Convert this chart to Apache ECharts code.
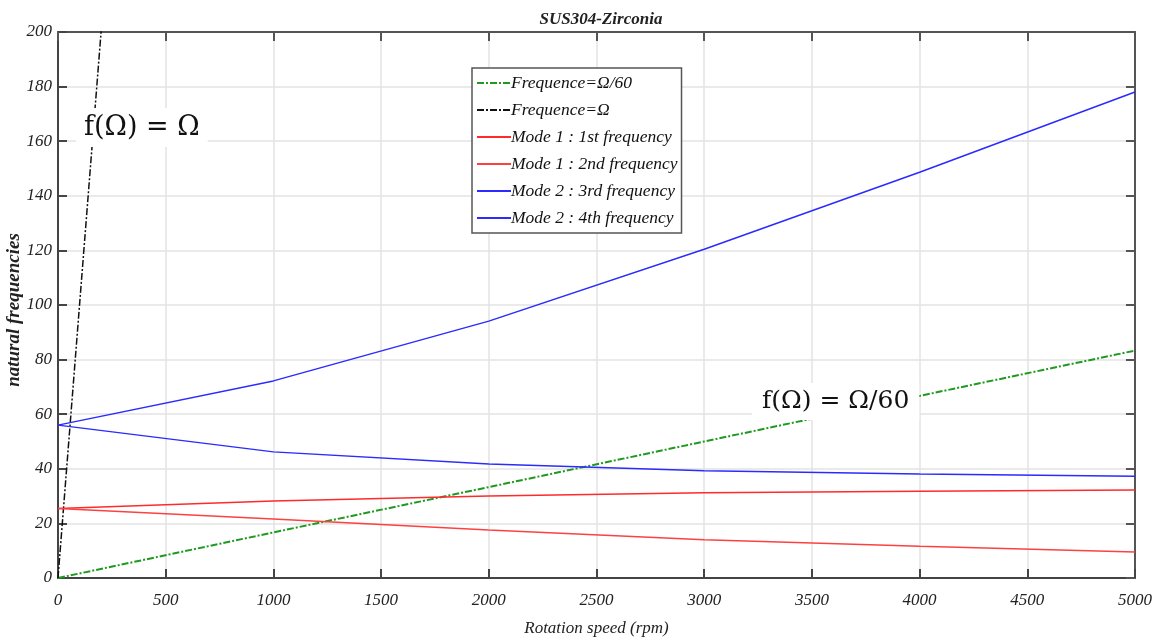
<!DOCTYPE html>
<html><head><meta charset="utf-8">
<script src="https://cdn.jsdelivr.net/npm/echarts@6/dist/echarts.min.js"></script>
<style>html,body{margin:0;padding:0;background:#fff}#c{width:1162px;height:643px}</style>
</head><body><div id="c"></div>
<script>
// Rotation speed (rpm)
const speeds = [0, 1000, 2000, 3000, 4000, 5000];
const freqOmega60 = [0, 16.7, 33.3, 50, 66.7, 83.3];
const freqOmega = [0, 1000, 2000, 3000, 4000, 5000];
const mode1First = [25.5, 28.2, 30.0, 31.2, 31.8, 32.2];
const mode1Second = [25.5, 21.6, 17.6, 14.0, 11.6, 9.5];
const mode2Third = [56, 72.2, 94.1, 120.4, 148.6, 178];
const mode2Fourth = [56, 46.2, 41.8, 39.3, 38.1, 37.3];
const seriesNames = ['Frequence=Ω/60','Frequence=Ω','Mode 1 : 1st frequency','Mode 1 : 2nd frequency','Mode 2 : 3rd frequency','Mode 2 : 4th frequency'];
const xTicks = [0,500,1000,1500,2000,2500,3000,3500,4000,4500,5000];
const yTicks = [0,20,40,60,80,100,120,140,160,180,200];

const pair = arr => speeds.map((s,i)=>[s,arr[i]]);
const serif = '"Liberation Serif", "DejaVu Serif", serif';
const chart = echarts.init(document.getElementById('c'));
const axisLabelStyle = {fontFamily: serif, fontStyle:'italic', fontSize:17, color:'#222'};
const mkLine = (name, data, color, type, width) => ({
  name, type:'line', data: pair(data), symbol:'none', showSymbol:false, clip:true,
  lineStyle:{color, width: width||1.5, type: type||'solid'}, itemStyle:{color}, z:3
});
chart.setOption({
  animation:false,
  title:{text:'SUS304-Zirconia', left:596, top:6, textAlign:'center',
    textStyle:{fontFamily:serif, fontStyle:'italic', fontWeight:'bold', fontSize:17, color:'#222'}},
  grid:{left:58, right:27, top:32, bottom:65, containLabel:false, outerBoundsMode:'none'},
  legend:{orient:'vertical', left:472, top:68, data:seriesNames,
    backgroundColor:'#fff', borderColor:'#555', borderWidth:1.5, borderRadius:0,
    padding:[6,4,6,4], itemGap:9, itemWidth:34, itemHeight:16,
    itemStyle:{opacity:0},
    textStyle:{fontFamily:serif, fontStyle:'italic', fontSize:17.5, color:'#111', padding:[0,0,0,-5]}},
  xAxis:[{type:'value', min:0, max:5000, interval:500, position:'bottom',
    name:'Rotation speed (rpm)', nameLocation:'middle', nameGap:42,
    nameTextStyle:{fontFamily:serif, fontStyle:'italic', fontSize:17, color:'#222'},
    axisLine:{show:true, onZero:false, lineStyle:{color:'#444', width:2}},
    axisTick:{show:true, inside:true, length:9, lineStyle:{color:'#444', width:2}},
    axisLabel:Object.assign({margin:14, formatter:v=>xTicks.includes(v)?String(v):''}, axisLabelStyle),
    splitLine:{show:true, lineStyle:{color:'#e3e3e3', width:1.5}}},
    {type:'value', min:0, max:5000, interval:500, position:'top',
    axisLine:{show:true, onZero:false, lineStyle:{color:'#555', width:2}},
    axisTick:{show:true, inside:true, length:9, lineStyle:{color:'#555', width:2}},
    axisLabel:{show:false}, splitLine:{show:false}}],
  yAxis:[{type:'value', min:0, max:200, interval:20, position:'left',
    axisLine:{show:true, onZero:false, lineStyle:{color:'#444', width:2}},
    axisTick:{show:true, inside:true, length:9, lineStyle:{color:'#444', width:2}},
    axisLabel:Object.assign({margin:6, formatter:v=>yTicks.includes(v)?String(v):''}, axisLabelStyle),
    splitLine:{show:true, lineStyle:{color:'#e3e3e3', width:1.5}}},
    {type:'value', min:0, max:200, interval:20, position:'right',
    axisLine:{show:true, onZero:false, lineStyle:{color:'#555', width:2}},
    axisTick:{show:true, inside:true, length:9, lineStyle:{color:'#555', width:2}},
    axisLabel:{show:false}, splitLine:{show:false}}],
  series:[
    mkLine(seriesNames[0], freqOmega60, '#1f9a1f', [7,2,2,2], 2),
    mkLine(seriesNames[1], freqOmega, '#111111', [7,2,2,2], 1.5),
    mkLine(seriesNames[2], mode1First, '#ff2a2a', 'solid', 1.5),
    mkLine(seriesNames[3], mode1Second, '#ff4040', 'solid', 1.5),
    mkLine(seriesNames[4], mode2Third, '#2b2bff', 'solid', 1.5),
    mkLine(seriesNames[5], mode2Fourth, '#2b2bff', 'solid', 1.5)
  ],
  graphic:[
    {type:'text', x:14, y:310, rotation:Math.PI/2, z:10,
      style:{text:'natural frequencies', font:'italic bold 19px "Liberation Serif", serif', fill:'#222', align:'center', verticalAlign:'middle'}},
    {type:'text', left:76, top:108, z:10, style:{text:'f(Ω) = Ω', font:'27px "DejaVu Serif", serif', fill:'#111', backgroundColor:'#fff', padding:[6,8,6,8]}},
    {type:'text', left:752, top:383, z:10, style:{text:'f(Ω) = Ω/60', font:'25px "DejaVu Serif", serif', fill:'#111', backgroundColor:'#fff', padding:[6,10,6,10]}}
  ]
});
</script></body></html>
